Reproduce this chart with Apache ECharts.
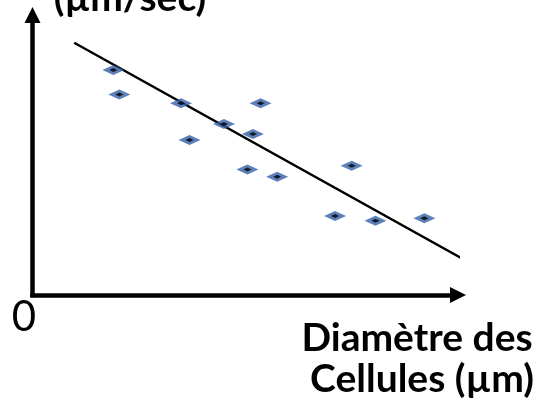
<!DOCTYPE html>
<html>
<head>
<meta charset="utf-8">
<script src="https://cdn.jsdelivr.net/npm/echarts@6/dist/echarts.min.js"></script>
<style>
html,body{margin:0;padding:0;background:#fff;}
#chart{width:545px;height:411px;}
</style>
</head>
<body>
<div id="chart"></div>
<script>
// Data (arbitrary units: 0-100 on both axes)
var diameters = [19.0, 20.4, 34.9, 36.9, 45.0, 51.8, 53.6, 50.5, 57.5, 75.0, 71.1, 80.6, 92.1];
var speeds    = [80.4, 71.6, 68.5, 55.4, 61.1, 57.5, 68.5, 44.8, 42.2, 46.2, 28.2, 26.5, 27.4];
var trendX = [9.8, 101.1];
var trendY = [90.1, 12.9];
var yTitle = '(µm/sec)';
var xTitleLines = ['Diamètre des', 'Cellules (µm)'];
var originLabel = '0';

var points = diameters.map(function (d, i) { return [d, speeds[i]]; });
var trend = trendX.map(function (d, i) { return [d, trendY[i]]; });

var chart = echarts.init(document.getElementById('chart'), null, {renderer: 'canvas'});
var axisLineStyle = {color: '#000', width: 4.5, cap: 'square'};
function txt(x, y, s, font) {
  return {type: 'text', x: x, y: y, style: {text: s, font: font, fill: '#000',
    textAlign: 'center', textVerticalAlign: 'middle', align: 'center', verticalAlign: 'middle'}};
}
chart.setOption({
  animation: false,
  backgroundColor: '#fff',
  grid: {left: 32.5, top: 15, right: 87, bottom: 116},
  xAxis: {
    type: 'value', min: 0, max: 100,
    axisLine: {show: true, lineStyle: axisLineStyle, symbol: ['none', 'triangle'], symbolSize: [16, 16]},
    axisTick: {show: false}, axisLabel: {show: false}, splitLine: {show: false}
  },
  yAxis: {
    type: 'value', min: 0, max: 100,
    axisLine: {show: true, lineStyle: axisLineStyle, symbol: ['none', 'triangle'], symbolSize: [16, 16]},
    axisTick: {show: false}, axisLabel: {show: false}, splitLine: {show: false}
  },
  series: [
    {
      type: 'line', data: trend, clip: false, symbol: 'none',
      lineStyle: {color: '#000', width: 2.5}, z: 1
    },
    {
      type: 'scatter', data: points, symbol: 'diamond', symbolSize: [22, 10],
      itemStyle: {color: '#3560A8'}, z: 2
    },
    {
      type: 'scatter', data: points, symbol: 'diamond', symbolSize: [8, 4],
      itemStyle: {color: '#000'}, z: 3
    }
  ],
  graphic: [
    txt(130, -2, yTitle, 'bold 39px Lato'),
    txt(417, 338, xTitleLines[0], 'bold 39px Lato'),
    txt(422, 379, xTitleLines[1], 'bold 39px Lato'),
    txt(24, 317, originLabel, '42px Lato')
  ]
});
</script>
</body>
</html>
